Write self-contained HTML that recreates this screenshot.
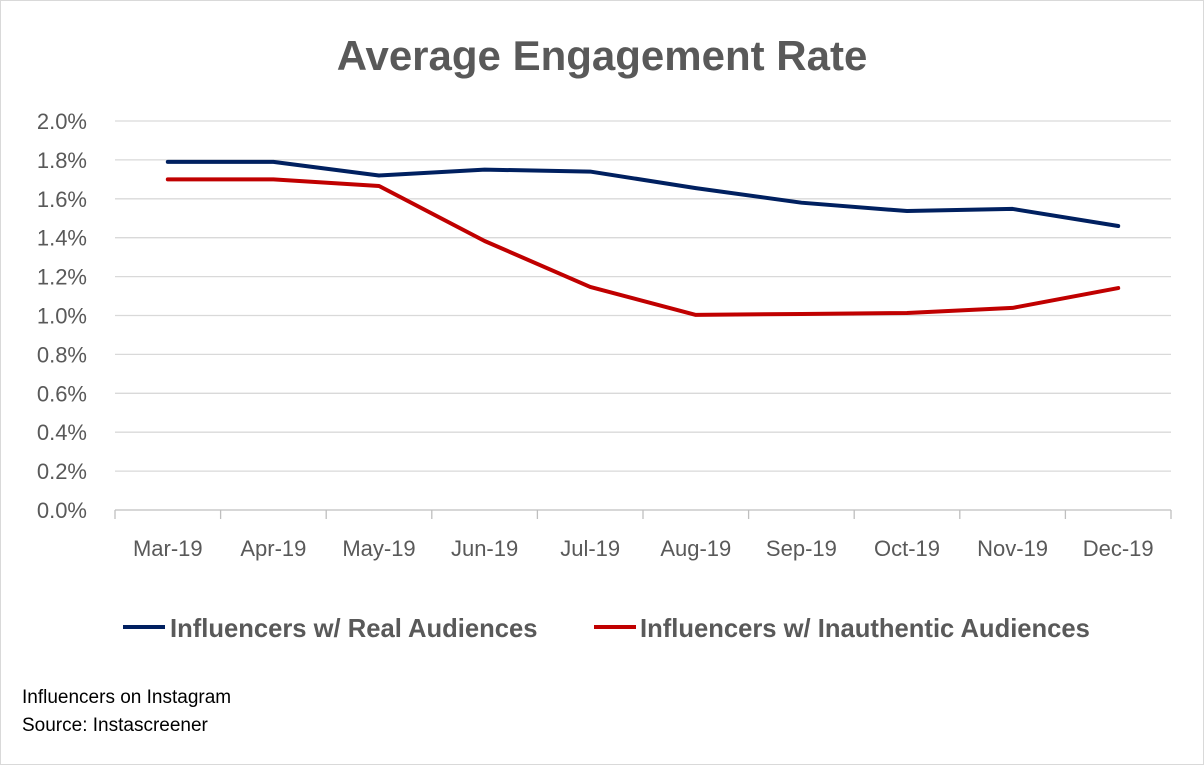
<!DOCTYPE html>
<html><head><meta charset="utf-8"><style>
body{margin:0;background:#fff;}
svg{display:block;font-family:"Liberation Sans",sans-serif;}
</style></head><body>
<svg id="chart" width="1204" height="765">
<rect x="0.5" y="0.5" width="1203" height="764" fill="#fff" stroke="#d9d9d9"/>
<text x="602" y="70" text-anchor="middle" font-size="42" font-weight="bold" fill="#595959">Average Engagement Rate</text>
<g id="grid"></g><g id="yl"></g><g id="xl"></g><g id="series"></g>
<g>
<line x1="123" y1="627" x2="165" y2="627" stroke="#002060" stroke-width="4"/>
<text x="170" y="637" font-size="25.6" font-weight="bold" fill="#595959">Influencers w/ Real Audiences</text>
<line x1="594" y1="627" x2="636" y2="627" stroke="#c00000" stroke-width="4"/>
<text x="640" y="637" font-size="25.6" font-weight="bold" fill="#595959">Influencers w/ Inauthentic Audiences</text>
</g>
<text x="22" y="703" font-size="19" fill="#000">Influencers on Instagram</text>
<text x="22" y="731" font-size="19" fill="#000">Source: Instascreener</text>
</svg>
<script>
const categories=["Mar-19","Apr-19","May-19","Jun-19","Jul-19","Aug-19","Sep-19","Oct-19","Nov-19","Dec-19"];
const realValues=[1.79,1.79,1.72,1.75,1.74,1.655,1.58,1.537,1.548,1.46];
const inauthValues=[1.70,1.70,1.666,1.383,1.147,1.003,1.008,1.013,1.039,1.141];
const yTicks=[0,0.2,0.4,0.6,0.8,1.0,1.2,1.4,1.6,1.8,2.0];
const NS="http://www.w3.org/2000/svg";
const L=115,R=1171,T=121,B=510;
const bw=(R-L)/categories.length;
const x=i=>L+bw*(i+0.5);
const y=v=>B-(v/2.0)*(B-T);
function mk(t,a,p){const e=document.createElementNS(NS,t);for(const k in a)e.setAttribute(k,a[k]);p.appendChild(e);return e;}
const grid=document.getElementById('grid'),yl=document.getElementById('yl'),xl=document.getElementById('xl'),ser=document.getElementById('series');
yTicks.forEach(v=>{
 const g=mk('line',{x1:L,x2:R,y1:y(v),y2:y(v),stroke:v===0?'#bfbfbf':'#d9d9d9','stroke-width':1.3},grid);
 
 
 const t=mk('text',{x:87,y:y(v)+8,'text-anchor':'end','font-size':22,fill:'#595959'},yl);
 t.textContent=v.toFixed(1)+'%';
 
 
});
for(let i=0;i<=categories.length;i++){
 const tk=mk('line',{x1:L+bw*i,x2:L+bw*i,y1:B,y2:B+9,stroke:'#bfbfbf','stroke-width':1.3},grid);
 
 
}
categories.forEach((c,i)=>{
 const t=mk('text',{x:x(i),y:556,'text-anchor':'middle','font-size':22,fill:'#595959'},xl);
 t.textContent=c;
 
 
});
function line(vals,col,name){
 const p=mk('polyline',{points:vals.map((v,i)=>x(i)+','+y(v)).join(' '),fill:'none',stroke:col,'stroke-width':4,'stroke-linejoin':'round','stroke-linecap':'round'},ser);
 
 
}
line(realValues,'#002060','series-real-audiences');
line(inauthValues,'#c00000','series-inauthentic-audiences');
</script>
</body></html>
